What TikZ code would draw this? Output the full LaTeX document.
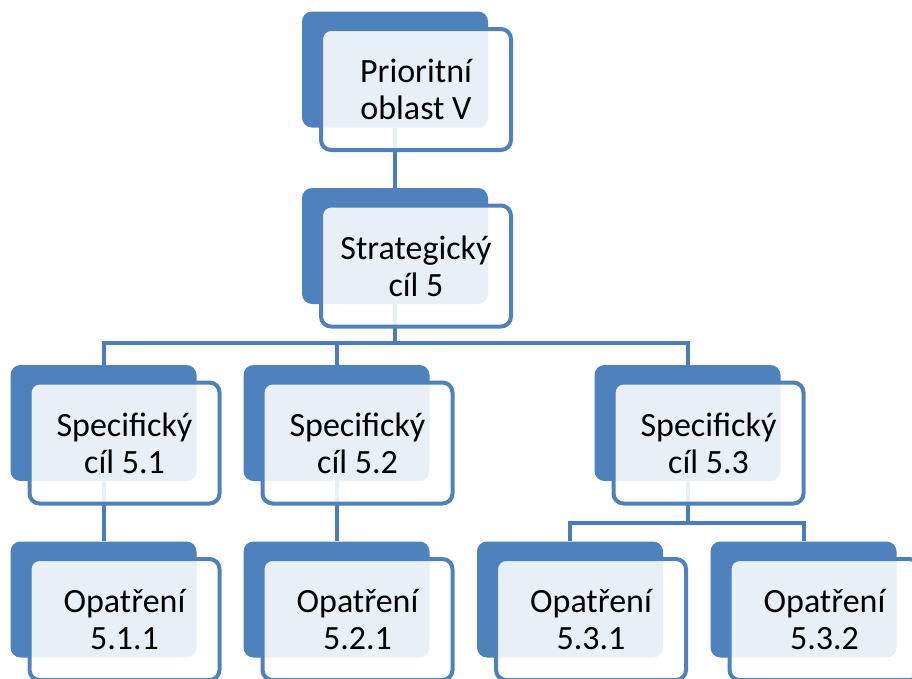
\documentclass[tikz,border=0pt]{standalone}
\usepackage{fontspec}
\setmainfont{Carlito}
\pgfdeclarelayer{bg}
\pgfsetlayers{bg,main}
\definecolor{acc}{HTML}{4F81BD}
\definecolor{conn}{HTML}{4A7DBA}
\begin{document}
\begin{tikzpicture}[x=1pt,y=-1pt,
  backbox/.style={fill=acc, rounded corners=10pt, minimum width=186pt, minimum height=116pt, inner sep=0pt},
  frontbox/.style={draw=acc, line width=4pt, fill=white, fill opacity=0.88, text opacity=1,
    rounded corners=10pt, minimum width=190pt, minimum height=121pt, inner sep=0pt,
    align=center, font=\fontsize{34}{37}\selectfont},
  link/.style={draw=conn, line width=4pt, line join=miter}]
\useasboundingbox (0,0) rectangle (912,678);
% level 0
\node[backbox] (b0) at (395,69.5) {};
\node[frontbox] (f0) at (416,89.5) {Prioritní\\oblast V};
% level 1
\node[backbox] (b1) at (395,246) {};
\node[frontbox] (f1) at (416,266) {Strategický\\cíl 5};
% level 2
\node[backbox] (b21) at (103.5,423) {};
\node[frontbox] (f21) at (124.5,443) {Specifický\\cíl 5.1};
\node[backbox] (b22) at (336.5,423) {};
\node[frontbox] (f22) at (357.5,443) {Specifický\\cíl 5.2};
\node[backbox] (b23) at (687.5,423) {};
\node[frontbox] (f23) at (708.5,443) {Specifický\\cíl 5.3};
% level 3
\node[backbox] (b31) at (103.5,599.5) {};
\node[frontbox] (f31) at (124.5,619.5) {Opatření\\5.1.1};
\node[backbox] (b32) at (336.5,599.5) {};
\node[frontbox] (f32) at (357.5,619.5) {Opatření\\5.2.1};
\node[backbox] (b33) at (570,599.5) {};
\node[frontbox] (f33) at (591,619.5) {Opatření\\5.3.1};
\node[backbox] (b34) at (803.5,599.5) {};
\node[frontbox] (f34) at (824.5,619.5) {Opatření\\5.3.2};
% connectors
\coordinate (busA) at (0,343);
\coordinate (busB) at (0,523);
\begin{pgfonlayer}{bg}
\draw[link] (b0.south) -- (b1.north);
\draw[link] (b1.south) -- (b1.south |- busA);
\draw[link] (b21.north) -- (b21.north |- busA) -- (b23.north |- busA) -- (b23.north);
\draw[link] (b22.north) -- (b22.north |- busA);
\draw[link] (b21.south) -- (b31.north);
\draw[link] (b22.south) -- (b32.north);
\draw[link] (b23.south) -- (b23.south |- busB);
\draw[link] (b33.north) -- (b33.north |- busB) -- (b34.north |- busB) -- (b34.north);
\end{pgfonlayer}
\end{tikzpicture}
\end{document}
